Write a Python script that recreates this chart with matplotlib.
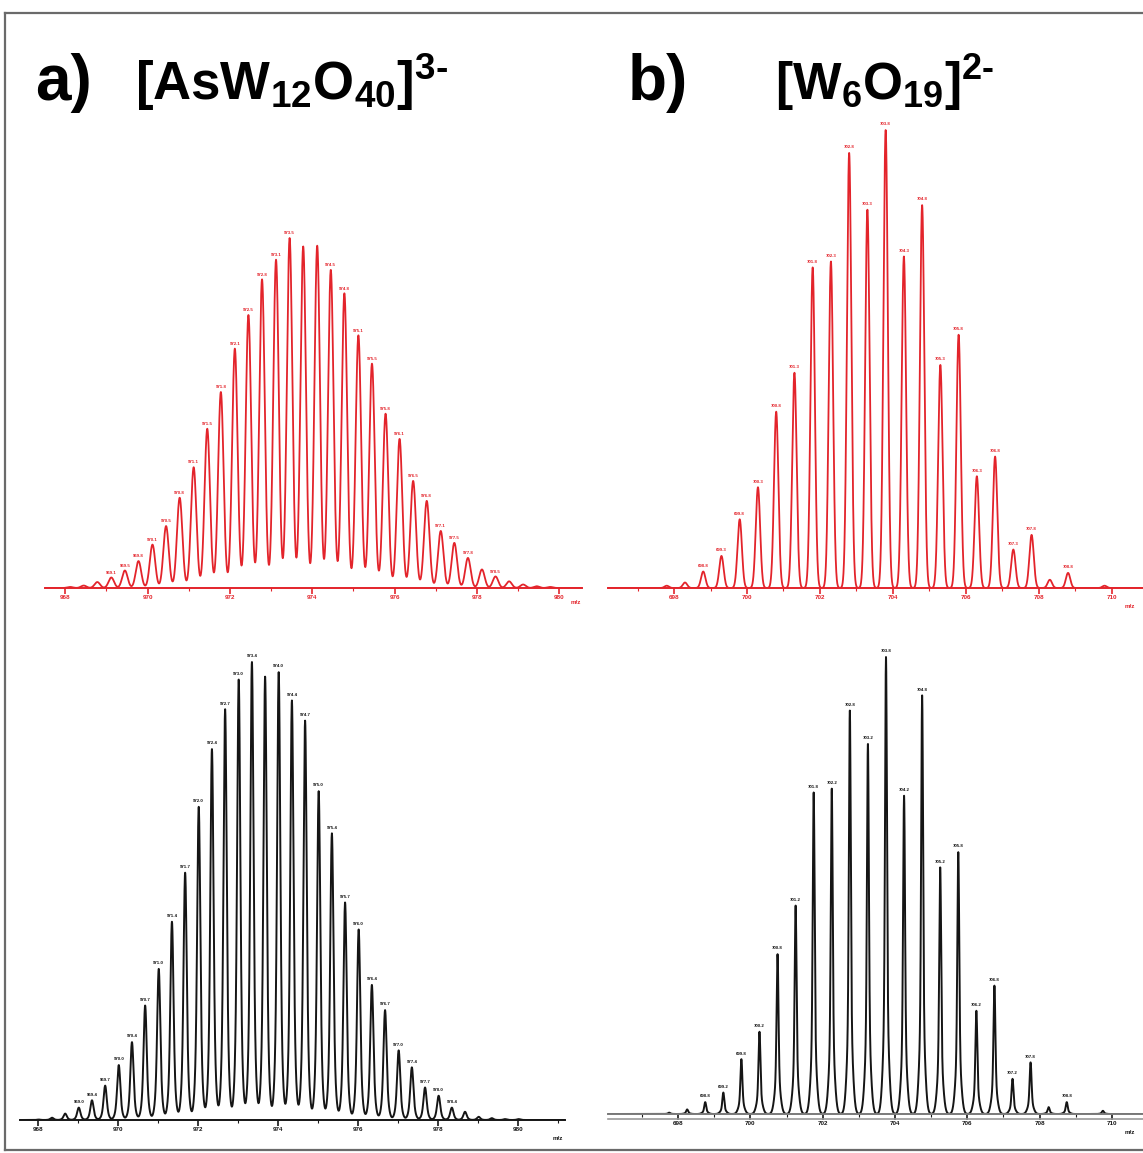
import numpy as np
import matplotlib
matplotlib.use("Agg")
import matplotlib.pyplot as plt
from matplotlib import font_manager
from matplotlib.lines import Line2D
from matplotlib.ticker import MultipleLocator

W, H = 1143, 1153

# a) [AsW12O40]3-  measured (red, top) / simulated (black, bottom)
as_meas_mz = [968.12, 968.45, 968.78, 969.12, 969.45, 969.78, 970.12, 970.45, 970.78,
              971.12, 971.45, 971.78, 972.12, 972.45, 972.78, 973.12, 973.45, 973.78,
              974.12, 974.45, 974.78, 975.12, 975.45, 975.78, 976.12, 976.45, 976.78,
              977.12, 977.45, 977.78, 978.12, 978.45, 978.78, 979.12, 979.45, 979.78]
as_meas_int = [0.003, 0.007, 0.017, 0.03, 0.05, 0.077, 0.124, 0.177, 0.258, 0.345,
               0.455, 0.56, 0.684, 0.78, 0.882, 0.938, 1.0, 0.976, 0.978, 0.909,
               0.842, 0.722, 0.641, 0.498, 0.426, 0.306, 0.249, 0.163, 0.129, 0.086,
               0.053, 0.033, 0.019, 0.01, 0.005, 0.003]
as_sim_mz = [968.02, 968.35, 968.68, 969.02, 969.35, 969.68, 970.02, 970.35, 970.68,
             971.02, 971.35, 971.68, 972.02, 972.35, 972.68, 973.02, 973.35, 973.68,
             974.02, 974.35, 974.68, 975.02, 975.35, 975.68, 976.02, 976.35, 976.68,
             977.02, 977.35, 977.68, 978.02, 978.35, 978.68, 979.02, 979.35, 979.68,
             980.02]
as_sim_int = [0.001, 0.005, 0.014, 0.027, 0.043, 0.075, 0.12, 0.17, 0.25, 0.33,
              0.433, 0.54, 0.684, 0.81, 0.897, 0.962, 1.0, 0.968, 0.978, 0.916,
              0.872, 0.718, 0.626, 0.475, 0.416, 0.295, 0.24, 0.152, 0.115, 0.071,
              0.053, 0.027, 0.018, 0.007, 0.004, 0.002, 0.002]

# b) [W6O19]2-
w_meas_mz = [697.8, 698.3, 698.8, 699.3, 699.8, 700.3, 700.8, 701.3, 701.8, 702.3,
             702.8, 703.3, 703.8, 704.3, 704.8, 705.3, 705.8, 706.3, 706.8, 707.3,
             707.8, 708.3, 708.8, 709.3, 709.8]
w_meas_int = [0.005, 0.012, 0.036, 0.07, 0.15, 0.22, 0.385, 0.47, 0.70, 0.713,
              0.95, 0.826, 1.0, 0.724, 0.836, 0.487, 0.553, 0.244, 0.287, 0.084,
              0.116, 0.018, 0.033, 0.0, 0.005]
w_sim_mz = [697.75, 698.25, 698.75, 699.25, 699.75, 700.25, 700.75, 701.25, 701.75,
            702.25, 702.75, 703.25, 703.75, 704.25, 704.75, 705.25, 705.75, 706.25,
            706.75, 707.25, 707.75, 708.25, 708.75, 709.25, 709.75]
w_sim_int = [0.003, 0.01, 0.026, 0.047, 0.12, 0.18, 0.35, 0.456, 0.704, 0.712,
             0.883, 0.81, 1.0, 0.697, 0.916, 0.54, 0.573, 0.226, 0.281, 0.077,
             0.113, 0.015, 0.026, 0.0, 0.007]

as_ticks = [968, 970, 972, 974, 976, 978, 980]
w_ticks = [698, 700, 702, 704, 706, 708, 710]

as_meas_lab = [i for i in range(3, 32) if i not in (17, 18, 30)]
as_sim_lab = [i for i in range(3, 32) if i != 17]
w_lab = list(range(2, 21)) + [22]

RED = "#e3242b"
BLACK = "#151515"


def has_font(name):
    try:
        font_manager.findfont(font_manager.FontProperties(family=name),
                              fallback_to_default=False)
        return True
    except ValueError:
        return False


title_font = "Liberation Sans Narrow" if has_font("Liberation Sans Narrow") else "Liberation Sans"
plt.rcParams["mathtext.fontset"] = "custom"
plt.rcParams["mathtext.rm"] = title_font + ":bold"
plt.rcParams["mathtext.it"] = title_font + ":bold"
plt.rcParams["mathtext.bf"] = title_font + ":bold"
plt.rcParams["font.family"] = ["Liberation Sans", "DejaVu Sans"]

fig = plt.figure(figsize=(W / 100, H / 100), dpi=100)

YTOP = 1.12


def profile(x, mz, inten, shapes):
    y = np.zeros_like(x)
    for m, h in zip(mz, inten):
        for frac, s in shapes:
            y += h * frac * np.exp(-(x - m) ** 2 / (2 * s ** 2))
    return y


def panel(px, xlim, mz, inten, shapes, color, lw, lab_idx, ticks, axcolor, unit_x,
          tickcolor=None):
    tickcolor = tickcolor or axcolor
    left, right, base, top = px
    hpx = (base - top) * YTOP
    ax = fig.add_axes([left / W, 1 - base / H, (right - left) / W, hpx / H])
    x = np.linspace(xlim[0], xlim[1], 6000)
    ax.plot(x, profile(x, mz, inten, shapes), color=color, lw=lw)
    for i in lab_idx:
        ax.text(mz[i], inten[i] + 0.008, f"{mz[i]:.1f}", fontsize=3.2,
                fontweight="bold", color=color, ha="center", va="bottom")
    ax.set_xlim(*xlim)
    ax.set_ylim(0, YTOP)
    for s in ("top", "right", "left"):
        ax.spines[s].set_visible(False)
    ax.spines["bottom"].set_color(axcolor)
    ax.spines["bottom"].set_linewidth(1.4)
    ax.set_yticks([])
    ax.set_xticks(ticks)
    ax.set_xticklabels([str(t) for t in ticks])
    ax.xaxis.set_minor_locator(MultipleLocator(1))
    ax.tick_params(axis="x", which="major", length=4, width=1.2, color=tickcolor,
                   labelsize=4.5, labelcolor=tickcolor, pad=1)
    ax.tick_params(axis="x", which="minor", length=2, width=0.8, color=tickcolor)
    for lbl in ax.get_xticklabels():
        lbl.set_fontweight("bold")
    ax.text(unit_x, -0.035, "m/z", fontsize=4.5, fontweight="bold", color=tickcolor,
            ha="center", va="top", clip_on=False)
    ax.patch.set_alpha(0)
    return ax


panel((45, 582, 588, 238), (967.51, 980.55), as_meas_mz, as_meas_int,
      [(1.0, 0.066)], RED, 1.3, as_meas_lab, as_ticks, RED, 980.4)
panel((608, 1160, 588, 130), (696.19, 711.32), w_meas_mz, w_meas_int,
      [(1.0, 0.06)], RED, 1.3, w_lab, w_ticks, RED, 710.5)
panel((20, 565, 1120, 662), (967.55, 981.18), as_sim_mz, as_sim_int,
      [(0.7, 0.035), (0.3, 0.07)], BLACK, 1.4, as_sim_lab, as_ticks, BLACK, 981.0)
axbr = panel((608, 1160, 1114, 657), (696.06, 711.33), w_sim_mz, w_sim_int,
             [(0.75, 0.025), (0.25, 0.07)], BLACK, 1.4, w_lab, w_ticks, "#7a7a7a", 710.5,
             tickcolor=BLACK)
axbr.axhline(-0.012, color="#9a9a9a", lw=1.2, clip_on=False)

# panel titles
fig.text(35 / W, 1 - 100 / H, "a)", fontsize=46, fontweight="bold",
         family=[title_font, "Liberation Sans"], va="baseline")
fig.text(135 / W, 1 - 100 / H, r"[AsW$_{12}$O$_{40}$]$^{3\text{-}}$", fontsize=38,
         fontweight="bold", family=[title_font, "Liberation Sans"], va="baseline")
fig.text(628 / W, 1 - 100 / H, "b)", fontsize=46, fontweight="bold",
         family=[title_font, "Liberation Sans"], va="baseline")
fig.text(775 / W, 1 - 100 / H, r"[W$_{6}$O$_{19}$]$^{2\text{-}}$", fontsize=37,
         fontweight="bold", family=[title_font, "Liberation Sans"], va="baseline")

# outer frame
fig.add_artist(Line2D([5 / W, 1.0], [1 - 13 / H, 1 - 13 / H], color="#6a6a6a", lw=1.6))
fig.add_artist(Line2D([5 / W, 5 / W], [1 - 13 / H, 1 - 1150 / H], color="#6a6a6a", lw=1.6))
fig.add_artist(Line2D([5 / W, 1.0], [1 - 1150 / H, 1 - 1150 / H], color="#6a6a6a", lw=1.6))

fig.savefig("out.png", dpi=100)
